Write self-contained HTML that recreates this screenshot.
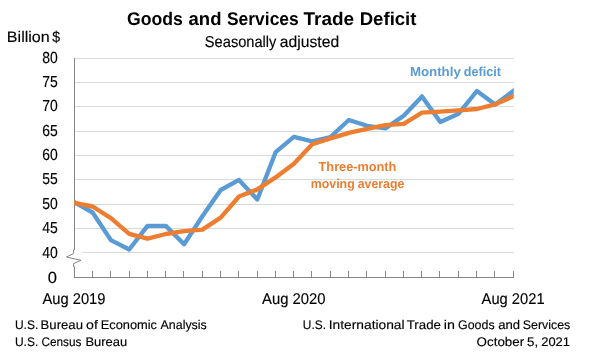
<!DOCTYPE html>
<html><head><meta charset="utf-8"><style>
html,body{margin:0;padding:0;background:#fff;width:589px;height:357px;overflow:hidden}
svg{display:block;font-family:"Liberation Sans", sans-serif;will-change:transform;text-rendering:geometricPrecision}
</style></head><body>
<svg width="589" height="357" viewBox="0 0 589 357">
<line x1="75" y1="58.5" x2="514" y2="58.5" stroke="#d9d9d9" stroke-width="1"/>
<line x1="75" y1="82.5" x2="514" y2="82.5" stroke="#d9d9d9" stroke-width="1"/>
<line x1="75" y1="106.5" x2="514" y2="106.5" stroke="#d9d9d9" stroke-width="1"/>
<line x1="75" y1="131.5" x2="514" y2="131.5" stroke="#d9d9d9" stroke-width="1"/>
<line x1="75" y1="155.5" x2="514" y2="155.5" stroke="#d9d9d9" stroke-width="1"/>
<line x1="75" y1="179.5" x2="514" y2="179.5" stroke="#d9d9d9" stroke-width="1"/>
<line x1="75" y1="204.5" x2="514" y2="204.5" stroke="#d9d9d9" stroke-width="1"/>
<line x1="75" y1="228.5" x2="514" y2="228.5" stroke="#d9d9d9" stroke-width="1"/>
<line x1="82" y1="252.5" x2="514" y2="252.5" stroke="#d9d9d9" stroke-width="1"/>
<polyline points="74.5,58 74.5,250 73.5,250 73.5,253.5 66.5,257 81,260.3 73.5,263.6 73.5,266.7 74.5,266.7 74.5,278" fill="none" stroke="#868686" stroke-width="1"/>
<line x1="74" y1="277.5" x2="514" y2="277.5" stroke="#868686" stroke-width="1"/>
<line x1="92.5" y1="271" x2="92.5" y2="277" stroke="#868686" stroke-width="1"/>
<line x1="110.5" y1="271" x2="110.5" y2="277" stroke="#868686" stroke-width="1"/>
<line x1="129.5" y1="271" x2="129.5" y2="277" stroke="#868686" stroke-width="1"/>
<line x1="147.5" y1="271" x2="147.5" y2="277" stroke="#868686" stroke-width="1"/>
<line x1="165.5" y1="271" x2="165.5" y2="277" stroke="#868686" stroke-width="1"/>
<line x1="183.5" y1="271" x2="183.5" y2="277" stroke="#868686" stroke-width="1"/>
<line x1="202.5" y1="271" x2="202.5" y2="277" stroke="#868686" stroke-width="1"/>
<line x1="220.5" y1="271" x2="220.5" y2="277" stroke="#868686" stroke-width="1"/>
<line x1="238.5" y1="271" x2="238.5" y2="277" stroke="#868686" stroke-width="1"/>
<line x1="257.5" y1="271" x2="257.5" y2="277" stroke="#868686" stroke-width="1"/>
<line x1="275.5" y1="271" x2="275.5" y2="277" stroke="#868686" stroke-width="1"/>
<line x1="293.5" y1="271" x2="293.5" y2="277" stroke="#868686" stroke-width="1"/>
<line x1="311.5" y1="271" x2="311.5" y2="277" stroke="#868686" stroke-width="1"/>
<line x1="330.5" y1="271" x2="330.5" y2="277" stroke="#868686" stroke-width="1"/>
<line x1="348.5" y1="271" x2="348.5" y2="277" stroke="#868686" stroke-width="1"/>
<line x1="366.5" y1="271" x2="366.5" y2="277" stroke="#868686" stroke-width="1"/>
<line x1="385.5" y1="271" x2="385.5" y2="277" stroke="#868686" stroke-width="1"/>
<line x1="403.5" y1="271" x2="403.5" y2="277" stroke="#868686" stroke-width="1"/>
<line x1="421.5" y1="271" x2="421.5" y2="277" stroke="#868686" stroke-width="1"/>
<line x1="439.5" y1="271" x2="439.5" y2="277" stroke="#868686" stroke-width="1"/>
<line x1="458.5" y1="271" x2="458.5" y2="277" stroke="#868686" stroke-width="1"/>
<line x1="476.5" y1="271" x2="476.5" y2="277" stroke="#868686" stroke-width="1"/>
<line x1="494.5" y1="271" x2="494.5" y2="277" stroke="#868686" stroke-width="1"/>
<line x1="513.5" y1="271" x2="513.5" y2="277" stroke="#868686" stroke-width="1"/>
<clipPath id="pc"><rect x="74" y="40" width="439.8" height="240"/></clipPath>
<g clip-path="url(#pc)" fill="none" stroke-width="4.35" stroke-linejoin="round" stroke-linecap="square">
<polyline points="74.30,202.20 92.60,212.50 110.90,240.10 129.20,249.50 147.50,225.90 165.80,225.90 184.10,244.20 202.40,216.30 220.70,190.00 239.00,179.90 257.30,199.50 275.60,152.20 293.90,136.90 312.20,141.40 330.50,137.00 348.80,120.00 367.10,125.80 385.40,128.40 403.70,115.70 422.00,96.40 440.30,122.10 458.60,113.70 476.90,91.00 495.20,104.60 513.50,90.90" stroke="#5b9bd5"/>
<polyline points="74.30,202.90 92.60,206.50 110.90,218.10 129.20,233.80 147.50,238.70 165.80,234.00 184.10,231.20 202.40,229.60 220.70,217.60 239.00,196.50 257.30,189.40 275.60,177.40 293.90,163.80 312.20,144.30 330.50,138.40 348.80,132.80 367.10,128.80 385.40,125.10 403.70,123.80 422.00,112.70 440.30,111.70 458.60,110.40 476.90,109.00 495.20,104.30 513.50,96.20" stroke="#ed7d31"/>
</g>
<text x="126.95" y="24.7" font-size="18.4" font-weight="bold" fill="#000" text-anchor="start" textLength="55.82" lengthAdjust="spacingAndGlyphs">Goods</text>
<text x="188.56" y="24.7" font-size="18.4" font-weight="bold" fill="#000" text-anchor="start" textLength="32.94" lengthAdjust="spacingAndGlyphs">and</text>
<text x="226.99" y="24.7" font-size="18.4" font-weight="bold" fill="#000" text-anchor="start" textLength="71.76" lengthAdjust="spacingAndGlyphs">Services</text>
<text x="303.57" y="24.7" font-size="18.4" font-weight="bold" fill="#000" text-anchor="start" textLength="50.56" lengthAdjust="spacingAndGlyphs">Trade</text>
<text x="359.7" y="24.7" font-size="18.4" font-weight="bold" fill="#000" text-anchor="start" textLength="56.8" lengthAdjust="spacingAndGlyphs">Deficit</text>
<text x="57.8" y="62.6" font-size="16" font-weight="normal" fill="#000" text-anchor="end" textLength="15.5" lengthAdjust="spacingAndGlyphs" stroke="#000" stroke-width="0.15">80</text>
<text x="57.8" y="86.975" font-size="16" font-weight="normal" fill="#000" text-anchor="end" textLength="15.5" lengthAdjust="spacingAndGlyphs" stroke="#000" stroke-width="0.15">75</text>
<text x="57.8" y="111.35" font-size="16" font-weight="normal" fill="#000" text-anchor="end" textLength="15.5" lengthAdjust="spacingAndGlyphs" stroke="#000" stroke-width="0.15">70</text>
<text x="57.8" y="135.725" font-size="16" font-weight="normal" fill="#000" text-anchor="end" textLength="15.5" lengthAdjust="spacingAndGlyphs" stroke="#000" stroke-width="0.15">65</text>
<text x="57.8" y="160.1" font-size="16" font-weight="normal" fill="#000" text-anchor="end" textLength="15.5" lengthAdjust="spacingAndGlyphs" stroke="#000" stroke-width="0.15">60</text>
<text x="57.8" y="184.475" font-size="16" font-weight="normal" fill="#000" text-anchor="end" textLength="15.5" lengthAdjust="spacingAndGlyphs" stroke="#000" stroke-width="0.15">55</text>
<text x="57.8" y="208.85" font-size="16" font-weight="normal" fill="#000" text-anchor="end" textLength="15.5" lengthAdjust="spacingAndGlyphs" stroke="#000" stroke-width="0.15">50</text>
<text x="57.8" y="233.225" font-size="16" font-weight="normal" fill="#000" text-anchor="end" textLength="15.5" lengthAdjust="spacingAndGlyphs" stroke="#000" stroke-width="0.15">45</text>
<text x="57.8" y="257.6" font-size="16" font-weight="normal" fill="#000" text-anchor="end" textLength="15.5" lengthAdjust="spacingAndGlyphs" stroke="#000" stroke-width="0.15">40</text>
<text x="57.0" y="282.6" font-size="16" font-weight="normal" fill="#000" text-anchor="end" textLength="9.2" lengthAdjust="spacingAndGlyphs" stroke="#000" stroke-width="0.15">0</text>
<text x="42.5" y="303.8" font-size="15.5" font-weight="normal" fill="#000" text-anchor="start" textLength="62.9" lengthAdjust="spacingAndGlyphs" stroke="#000" stroke-width="0.15">Aug 2019</text>
<text x="262.0" y="303.8" font-size="15.5" font-weight="normal" fill="#000" text-anchor="start" textLength="63.6" lengthAdjust="spacingAndGlyphs" stroke="#000" stroke-width="0.15">Aug 2020</text>
<text x="481.6" y="303.8" font-size="15.5" font-weight="normal" fill="#000" text-anchor="start" textLength="63.0" lengthAdjust="spacingAndGlyphs" stroke="#000" stroke-width="0.15">Aug 2021</text>
<text x="318.6" y="170.9" font-size="13" font-weight="bold" fill="#ed7d31" text-anchor="start" textLength="77.8" lengthAdjust="spacingAndGlyphs">Three-month</text>
<text x="204.85" y="46.6" font-size="15.8" font-weight="normal" fill="#000" text-anchor="start" textLength="71.59" lengthAdjust="spacingAndGlyphs" stroke="#000" stroke-width="0.15">Seasonally</text>
<text x="279.83" y="46.6" font-size="15.8" font-weight="normal" fill="#000" text-anchor="start" textLength="59.38" lengthAdjust="spacingAndGlyphs" stroke="#000" stroke-width="0.15">adjusted</text>
<text x="6.85" y="41.6" font-size="15.3" font-weight="normal" fill="#000" text-anchor="start" textLength="42.93" lengthAdjust="spacingAndGlyphs" stroke="#000" stroke-width="0.15">Billion</text>
<text x="52.19" y="41.6" font-size="15.3" font-weight="normal" fill="#000" text-anchor="start" textLength="7.84" lengthAdjust="spacingAndGlyphs" stroke="#000" stroke-width="0.15">$</text>
<text x="409.9" y="75.9" font-size="13" font-weight="bold" fill="#5b9bd5" text-anchor="start" textLength="50.94" lengthAdjust="spacingAndGlyphs">Monthly</text>
<text x="463.77" y="75.9" font-size="13" font-weight="bold" fill="#5b9bd5" text-anchor="start" textLength="37.23" lengthAdjust="spacingAndGlyphs">deficit</text>
<text x="310.78" y="188.1" font-size="13" font-weight="bold" fill="#ed7d31" text-anchor="start" textLength="43.93" lengthAdjust="spacingAndGlyphs">moving</text>
<text x="357.76" y="188.1" font-size="13" font-weight="bold" fill="#ed7d31" text-anchor="start" textLength="46.48" lengthAdjust="spacingAndGlyphs">average</text>
<text x="14.91" y="329.1" font-size="12.5" font-weight="normal" fill="#000" text-anchor="start" textLength="23.33" lengthAdjust="spacingAndGlyphs" stroke="#000" stroke-width="0.15">U.S.</text>
<text x="40.61" y="329.1" font-size="12.5" font-weight="normal" fill="#000" text-anchor="start" textLength="42.35" lengthAdjust="spacingAndGlyphs" stroke="#000" stroke-width="0.15">Bureau</text>
<text x="86.1" y="329.1" font-size="12.5" font-weight="normal" fill="#000" text-anchor="start" textLength="11.82" lengthAdjust="spacingAndGlyphs" stroke="#000" stroke-width="0.15">of</text>
<text x="100.76" y="329.1" font-size="12.5" font-weight="normal" fill="#000" text-anchor="start" textLength="56.26" lengthAdjust="spacingAndGlyphs" stroke="#000" stroke-width="0.15">Economic</text>
<text x="160.55" y="329.1" font-size="12.5" font-weight="normal" fill="#000" text-anchor="start" textLength="46.24" lengthAdjust="spacingAndGlyphs" stroke="#000" stroke-width="0.15">Analysis</text>
<text x="14.91" y="345.9" font-size="12.5" font-weight="normal" fill="#000" text-anchor="start" textLength="23.33" lengthAdjust="spacingAndGlyphs" stroke="#000" stroke-width="0.15">U.S.</text>
<text x="41.44" y="345.9" font-size="12.5" font-weight="normal" fill="#000" text-anchor="start" textLength="39.96" lengthAdjust="spacingAndGlyphs" stroke="#000" stroke-width="0.15">Census</text>
<text x="85.4" y="345.9" font-size="12.5" font-weight="normal" fill="#000" text-anchor="start" textLength="41.75" lengthAdjust="spacingAndGlyphs" stroke="#000" stroke-width="0.15">Bureau</text>
<text x="302.82" y="329.1" font-size="12.5" font-weight="normal" fill="#000" text-anchor="start" textLength="23.12" lengthAdjust="spacingAndGlyphs" stroke="#000" stroke-width="0.15">U.S.</text>
<text x="328.81" y="329.1" font-size="12.5" font-weight="normal" fill="#000" text-anchor="start" textLength="75.77" lengthAdjust="spacingAndGlyphs" stroke="#000" stroke-width="0.15">International</text>
<text x="406.75" y="329.1" font-size="12.5" font-weight="normal" fill="#000" text-anchor="start" textLength="34.14" lengthAdjust="spacingAndGlyphs" stroke="#000" stroke-width="0.15">Trade</text>
<text x="443.85" y="329.1" font-size="12.5" font-weight="normal" fill="#000" text-anchor="start" textLength="11.1" lengthAdjust="spacingAndGlyphs" stroke="#000" stroke-width="0.15">in</text>
<text x="458.04" y="329.1" font-size="12.5" font-weight="normal" fill="#000" text-anchor="start" textLength="36.59" lengthAdjust="spacingAndGlyphs" stroke="#000" stroke-width="0.15">Goods</text>
<text x="498.29" y="329.1" font-size="12.5" font-weight="normal" fill="#000" text-anchor="start" textLength="21.85" lengthAdjust="spacingAndGlyphs" stroke="#000" stroke-width="0.15">and</text>
<text x="522.76" y="329.1" font-size="12.5" font-weight="normal" fill="#000" text-anchor="start" textLength="47.49" lengthAdjust="spacingAndGlyphs" stroke="#000" stroke-width="0.15">Services</text>
<text x="476.6" y="345.9" font-size="12.5" font-weight="normal" fill="#000" text-anchor="start" textLength="47.56" lengthAdjust="spacingAndGlyphs" stroke="#000" stroke-width="0.15">October</text>
<text x="527.02" y="345.9" font-size="12.5" font-weight="normal" fill="#000" text-anchor="start" textLength="11.16" lengthAdjust="spacingAndGlyphs" stroke="#000" stroke-width="0.15">5,</text>
<text x="541.21" y="345.9" font-size="12.5" font-weight="normal" fill="#000" text-anchor="start" textLength="28.74" lengthAdjust="spacingAndGlyphs" stroke="#000" stroke-width="0.15">2021</text>
</svg>
</body></html>
